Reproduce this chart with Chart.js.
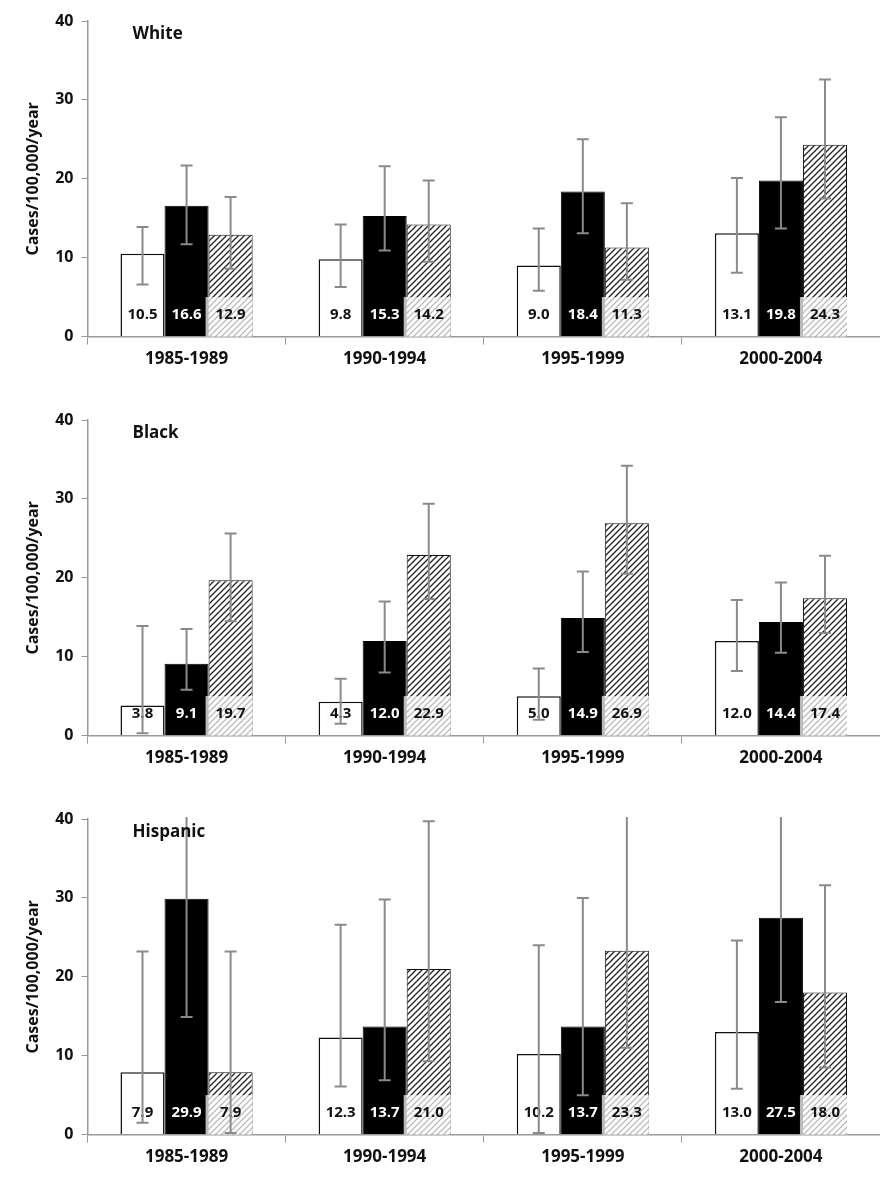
<!DOCTYPE html>
<html>
<head>
<meta charset="utf-8">
<script src="https://cdn.jsdelivr.net/npm/chart.js@4"></script>
<style>
  html, body { margin: 0; background: #fff; overflow: hidden; }
  .panel { position: absolute; left: 0; width: 880px; height: 373px; }
</style>
</head>
<body>
<div class="panel" style="top:0"><canvas id="c0"></canvas></div>
<div class="panel" style="top:399px"><canvas id="c1"></canvas></div>
<div class="panel" style="top:798px"><canvas id="c2"></canvas></div>
<script>
const periods = ['1985-1989', '1990-1994', '1995-1999', '2000-2004'];
const groups = ['White', 'Black', 'Hispanic'];

// values per panel: [open bar, black bar, hatched bar]
const whiteOpen = [10.5, 9.8, 9.0, 13.1];
const whiteBlack = [16.6, 15.3, 18.4, 19.8];
const whiteHatch = [12.9, 14.2, 11.3, 24.3];
const blackOpen = [3.8, 4.3, 5.0, 12.0];
const blackBlack = [9.1, 12.0, 14.9, 14.4];
const blackHatch = [19.7, 22.9, 26.9, 17.4];
const hispOpen = [7.9, 12.3, 10.2, 13.0];
const hispBlack = [29.9, 13.7, 13.7, 27.5];
const hispHatch = [7.9, 21.0, 23.3, 18.0];

// confidence intervals [low, high]
const whiteOpenCI = [[6.6, 13.9], [6.3, 14.2], [5.8, 13.7], [8.1, 20.1]];
const whiteBlackCI = [[11.7, 21.7], [10.9, 21.6], [13.1, 25.0], [13.7, 27.8]];
const whiteHatchCI = [[8.6, 17.7], [9.5, 19.8], [7.2, 16.9], [17.5, 32.6]];
const blackOpenCI = [[0.3, 13.9], [1.5, 7.2], [2.0, 8.5], [8.2, 17.2]];
const blackBlackCI = [[5.8, 13.5], [8.0, 17.0], [10.6, 20.8], [10.5, 19.4]];
const blackHatchCI = [[14.5, 25.6], [17.3, 29.4], [20.5, 34.2], [13.0, 22.8]];
const hispOpenCI = [[1.5, 23.2], [6.1, 26.6], [0.2, 24.0], [5.8, 24.6]];
const hispBlackCI = [[14.9, 41], [6.9, 29.8], [5.0, 30.0], [16.8, 41]];
const hispHatchCI = [[0.2, 23.2], [9.3, 39.7], [11.0, 41], [8.5, 31.6]];

const yTicks = [0, 10, 20, 30, 40];

const panels = [
  { vals: [whiteOpen, whiteBlack, whiteHatch], ci: [whiteOpenCI, whiteBlackCI, whiteHatchCI] },
  { vals: [blackOpen, blackBlack, blackHatch], ci: [blackOpenCI, blackBlackCI, blackHatchCI] },
  { vals: [hispOpen, hispBlack, hispHatch], ci: [hispOpenCI, hispBlackCI, hispHatchCI] }
];

const FONT = '"Open Sans"';

function makeHatch(light) {
  const c = document.createElement('canvas');
  c.width = 6; c.height = 6;
  const g = c.getContext('2d');
  g.fillStyle = '#fff'; g.fillRect(0, 0, 6, 6);
  g.strokeStyle = light ? '#bbb' : '#222';
  g.lineWidth = 1.3;
  g.beginPath();
  g.moveTo(-1, 7); g.lineTo(7, -1);
  g.moveTo(-1, 1); g.lineTo(1, -1);
  g.moveTo(5, 7); g.lineTo(7, 5);
  g.stroke();
  return g.createPattern(c, 'repeat');
}

const decor = {
  id: 'decor',
  afterDatasetsDraw(chart) {
    const ctx = chart.ctx, y = chart.scales.y, area = chart.chartArea;
    const p = chart.options.plugins.decor;
    const lightHatch = makeHatch(true);
    ctx.save();
    chart.data.datasets.forEach((ds, di) => {
      chart.getDatasetMeta(di).data.forEach((bar, i) => {
        const w = bar.width;
        const x0 = bar.x - w / 2;
        // label area at bottom
        const top = y.getPixelForValue(5), bot = y.getPixelForValue(0.8);
        if (di === 2) {
          ctx.fillStyle = lightHatch;
          ctx.fillRect(x0 - 2, top, w + 2, y.getPixelForValue(0) - top);
          ctx.fillStyle = '#bbb';
          ctx.fillRect(x0 - 3, top, 3, y.getPixelForValue(0) - top);
        }
        ctx.fillStyle = di === 1 ? '#fff' : '#111';
        ctx.font = 'bold 15px ' + FONT;
        ctx.textAlign = 'center';
        ctx.textBaseline = 'middle';
        ctx.fillText(ds.data[i].toFixed(1), bar.x, (top + bot) / 2 + 1);
      });
    });
    // error bars
    ctx.beginPath();
    ctx.rect(area.left, area.top - 2, area.right - area.left, area.bottom - area.top + 2);
    ctx.clip();
    ctx.strokeStyle = '#8a8a8a';
    ctx.lineWidth = 2;
    chart.data.datasets.forEach((ds, di) => {
      chart.getDatasetMeta(di).data.forEach((bar, i) => {
        const [lo, hi] = p.ci[di][i];
        const yl = y.getPixelForValue(lo), yh = y.getPixelForValue(hi);
        ctx.beginPath();
        ctx.moveTo(bar.x, yl); ctx.lineTo(bar.x, yh);
        ctx.moveTo(bar.x - 6, yl); ctx.lineTo(bar.x + 6, yl);
        ctx.moveTo(bar.x - 6, yh); ctx.lineTo(bar.x + 6, yh);
        ctx.stroke();
      });
    });
    ctx.restore();
    // group title
    ctx.save();
    ctx.fillStyle = '#111';
    ctx.font = 'bold 17px ' + FONT;
    ctx.textBaseline = 'middle';
    ctx.fillText(p.title, area.left + 45, y.getPixelForValue(38.3));
    ctx.restore();
  }
};

panels.forEach((pn, k) => {
  new Chart(document.getElementById('c' + k), {
    type: 'bar',
    data: {
      labels: periods,
      datasets: [
        { data: pn.vals[0], backgroundColor: '#fff', borderColor: '#111', borderWidth: 1.5 },
        { data: pn.vals[1], backgroundColor: '#000', borderColor: '#000', borderWidth: 1 },
        { data: pn.vals[2], backgroundColor: makeHatch(false), borderColor: '#111', borderWidth: 1 }
      ]
    },
    options: {
      responsive: true,
      maintainAspectRatio: false,
      animation: false,
      categoryPercentage: 0.667,
      barPercentage: 1,
      layout: { padding: { top: 21, right: 0, left: 20, bottom: 0 } },
      plugins: {
        legend: { display: false },
        tooltip: { enabled: false },
        decor: { title: groups[k], ci: pn.ci }
      },
      scales: {
        y: {
          min: 0, max: 40,
          afterBuildTicks: s => { s.ticks = yTicks.map(v => ({ value: v })); },
          border: { color: '#999', width: 1.5 },
          grid: { display: true, drawOnChartArea: false, tickLength: 6, color: '#999' },
          ticks: { font: { family: FONT, weight: 'bold', size: 16 }, color: '#111', padding: 8 },
          title: { display: true, text: 'Cases/100,000/year', font: { family: FONT, weight: 'bold', size: 16 }, color: '#111', padding: 4 }
        },
        x: {
          border: { color: '#999', width: 1.5 },
          grid: { display: true, offset: true, drawOnChartArea: false, tickLength: 8, color: '#999' },
          ticks: { font: { family: FONT, weight: 'bold', size: 17 }, color: '#111', padding: 4 }
        }
      }
    },
    plugins: [decor]
  });
});
</script>
</body>
</html>
